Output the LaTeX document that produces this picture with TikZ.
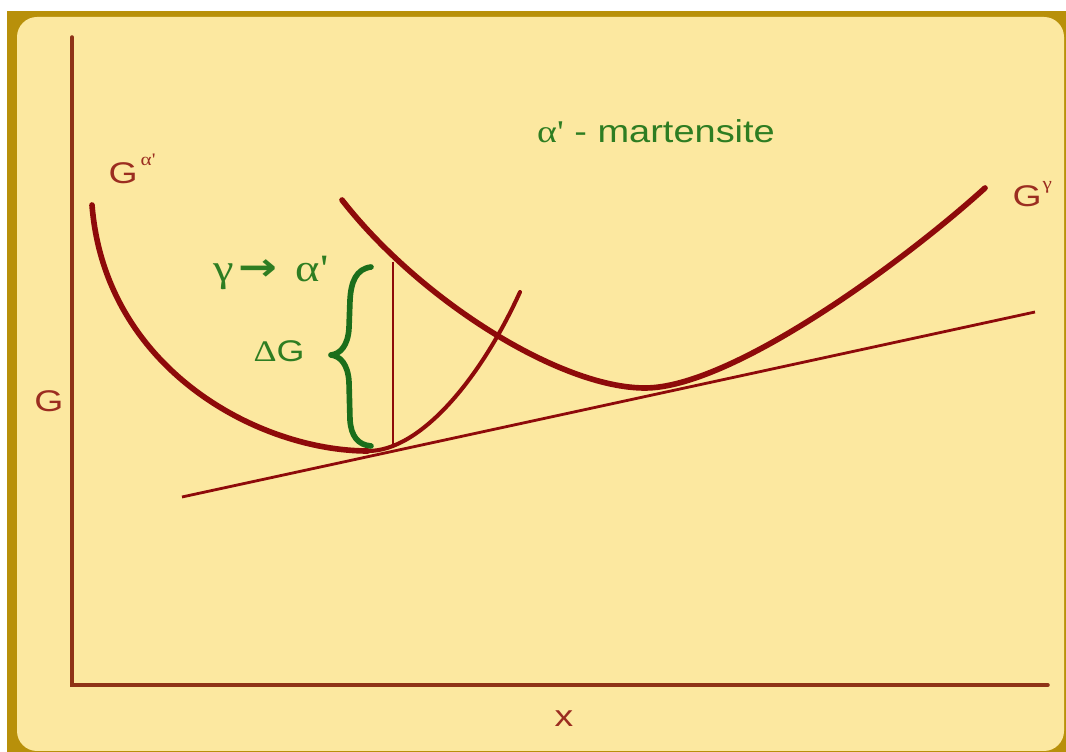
\documentclass[tikz,border=0pt]{standalone}
\usepackage{fontspec}
\usepackage{graphicx}
\setmainfont{Liberation Sans}
\newfontfamily\gk{Liberation Serif}
\newfontfamily\arrowfont{DejaVu Sans}
\definecolor{gold}{HTML}{B8900A}
\definecolor{paper}{HTML}{FCE8A0}
\definecolor{curvered}{HTML}{8E0A0A}
\definecolor{axisbrown}{HTML}{8F3317}
\definecolor{labelred}{HTML}{9B2D20}
\definecolor{textgreen}{HTML}{2E7D22}
\definecolor{bracegreen}{HTML}{1B6E1B}
\newcommand{\stretchx}[2]{\scalebox{#1}[1]{#2}}
\tikzset{
  axisline/.style={draw=axisbrown, line width=1pt, line cap=round},
  curvethick/.style={draw=curvered, line width=1.6pt, line cap=round},
  curvethin/.style={draw=curvered, line width=1.15pt, line cap=round},
  tangentline/.style={draw=curvered, line width=0.8pt},
  dropline/.style={draw=curvered, line width=0.6pt},
  bracestyle/.style={draw=bracegreen, line width=1.6pt, line cap=round, line join=round},
  redlabel/.style={text=labelred, inner sep=0pt, font=\fontsize{8.5pt}{10pt}\selectfont},
  greenlabel/.style={text=textgreen, inner sep=0pt, font=\fontsize{8.5pt}{10pt}\selectfont},
}
\begin{document}
\begin{tikzpicture}[x=0.01cm, y=-0.01cm]
\useasboundingbox (0,0) rectangle (1066,752);
\fill[white] (0,0) rectangle (1066,752);
\fill[gold] (7,11) rectangle (1066,752);
\fill[paper, rounded corners=0.2cm] (17,17) rectangle (1064,751);
% axes
\coordinate (Ytop) at (72,37);
\coordinate (O) at (72,685);
\coordinate (Xend) at (1048,685);
\draw[axisline] (Ytop) -- (O) -- (Xend);
% tangent line
\coordinate (T1) at (182,497);
\coordinate (T2) at (1035,312);
\draw[tangentline] (T1) -- (T2);
% G alpha' curve
\coordinate (A0) at (92,205);
\coordinate (Amin) at (368,451);
\coordinate (A1) at (520,292);
\draw[curvethick] (A0) .. controls (105,370) and (260,451) .. (Amin);
\draw[curvethin] (Amin) .. controls (420,451) and (480,380) .. (A1);
% G gamma curve
\coordinate (B0) at (342,200);
\coordinate (Bmin) at (645,388);
\coordinate (B1) at (985,188);
\draw[curvethick] (B0) .. controls (420,300) and (560,388) .. (Bmin) .. controls (730,388) and (900,265) .. (B1);
% vertical drop line
\coordinate (V0) at (393,262);
\coordinate (V1) at (393,447);
\draw[dropline] (V0) -- (V1);
% brace
\draw[bracestyle] (371,267) .. controls (356,269) and (351,282) .. (350,300) -- (349,328) .. controls (348,346) and (340,354) .. (331,355) .. controls (340,356) and (348,364) .. (349,382) -- (350,420) .. controls (351,436) and (358,445) .. (371,446);
% labels
\node[redlabel] (Gaxis) at (49,401) {\stretchx{1.25}{G}};
\node[redlabel] (xlabel) at (564,719) {\stretchx{1.25}{x}};
\node[redlabel, anchor=base west] (Galpha) at (108,184) {\stretchx{1.25}{G}};
\node[redlabel, anchor=base west, font=\fontsize{5pt}{6pt}\selectfont] (Galphasup) at (140,166) {\stretchx{1.2}{\gk α'}};
\node[redlabel, anchor=base west] (Ggamma) at (1012,207) {\stretchx{1.25}{G}};
\node[redlabel, anchor=base west, font=\fontsize{5pt}{6pt}\selectfont] (Ggammasup) at (1042,190) {\stretchx{1.2}{\gk γ}};
\node[greenlabel, font=\fontsize{9pt}{11pt}\selectfont] (mart) at (656,131) {\stretchx{1.2}{{\gk α'} - martensite}};
\node[greenlabel] (dG) at (279,351) {\stretchx{1.2}{{\gk Δ}G}};
\node[greenlabel, font=\fontsize{11pt}{13pt}\selectfont] (trans) at (271,273) {\stretchx{1.2}{{\gk γ}\hspace{1pt}\raisebox{0.3pt}{\arrowfont\fontsize{11pt}{12pt}\selectfont\bfseries →}\hspace{4.5pt}{\gk α'}}};
\end{tikzpicture}
\end{document}
